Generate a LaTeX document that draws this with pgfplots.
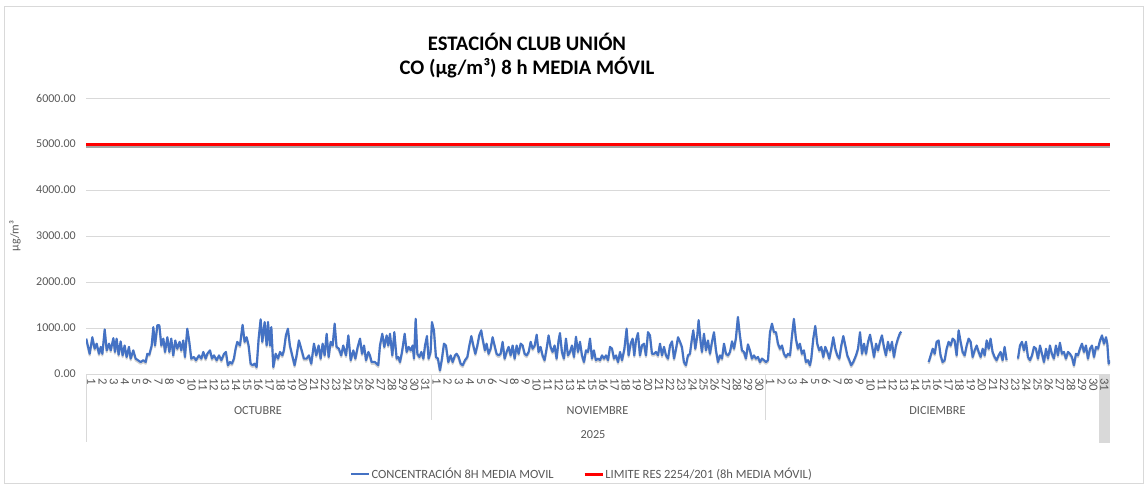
\documentclass[border=0pt]{standalone}
\usepackage{pgfplots}
\pgfplotsset{compat=1.18}
\usepackage{pgfplotstable}
\usepackage{fontspec}
\setmainfont{Carlito}
\definecolor{serblue}{HTML}{4472C4}
\definecolor{gridgray}{HTML}{D9D9D9}
\definecolor{txtgray}{HTML}{595959}

\pgfplotstableread{
d v
0.02 770
0.33 440
0.57 800
0.78 550
0.96 660
1.17 440
1.32 590
1.47 440
1.68 970
1.86 515
2.07 660
2.22 515
2.46 780
2.60 480
2.75 770
2.93 420
3.11 710
3.29 405
3.47 620
3.65 370
3.86 590
4.01 335
4.25 515
4.46 335
4.67 300
4.91 260
5.15 300
5.36 260
5.51 440
5.69 420
5.90 620
6.05 1020
6.20 620
6.41 1060
6.59 1060
6.77 620
6.95 770
7.10 480
7.31 800
7.49 480
7.66 770
7.84 405
8.02 730
8.20 550
8.41 700
8.56 515
8.74 730
8.89 370
9.10 985
9.28 700
9.46 335
9.70 370
9.88 300
10.15 405
10.36 335
10.54 480
10.75 335
10.90 440
11.14 515
11.32 335
11.50 405
11.74 300
11.95 405
12.16 300
12.40 440
12.57 480
12.75 190
12.93 260
13.11 225
13.29 335
13.44 550
13.59 700
13.83 620
14.07 1070
14.25 700
14.43 800
14.61 620
14.79 225
14.97 190
15.15 225
15.33 150
15.51 770
15.69 1190
15.84 700
16.05 1130
16.23 620
16.35 1130
16.53 620
16.65 1020
16.83 150
17.04 440
17.25 335
17.43 480
17.64 405
17.78 515
17.96 840
18.14 985
18.32 620
18.53 405
18.74 190
18.92 405
19.13 730
19.34 550
19.58 335
19.82 335
20.03 405
20.24 225
20.48 660
20.69 405
20.90 620
21.08 335
21.26 660
21.44 405
21.62 875
21.80 370
21.98 700
22.16 620
22.34 1095
22.51 590
22.72 550
22.93 405
23.11 620
23.36 405
23.57 840
23.78 300
24.02 515
24.20 335
24.41 590
24.62 770
24.80 440
24.98 620
25.16 300
25.37 480
25.51 405
25.66 260
25.96 260
26.26 190
26.41 620
26.62 875
26.80 590
27.01 840
27.16 620
27.31 875
27.52 405
27.70 910
27.91 335
28.06 370
28.21 260
28.39 480
28.63 875
28.81 480
28.99 590
29.17 515
29.35 620
29.47 335
29.62 1200
29.77 440
29.95 370
30.13 480
30.31 335
30.46 620
30.63 825
30.78 335
30.96 480
31.08 1130
31.26 950
31.44 370
31.62 335
31.80 80
31.98 335
32.16 660
32.34 620
32.55 260
32.76 405
32.94 260
33.15 405
33.30 440
33.48 370
33.66 225
33.84 190
34.05 300
34.26 370
34.44 620
34.62 825
34.80 620
34.98 440
35.16 620
35.33 840
35.51 950
35.63 770
35.84 515
35.99 660
36.17 440
36.35 550
36.53 800
36.71 620
36.89 440
37.07 405
37.25 440
37.43 700
37.61 335
37.79 480
37.97 590
38.15 405
38.33 620
38.51 335
38.69 620
38.87 440
39.05 660
39.23 620
39.41 440
39.59 405
39.77 480
39.95 700
40.13 550
40.31 620
40.49 855
40.66 480
40.84 590
41.02 405
41.20 300
41.38 550
41.56 840
41.74 590
41.92 480
42.10 620
42.28 335
42.46 730
42.58 890
42.76 480
42.94 335
43.12 770
43.30 405
43.48 480
43.66 620
43.84 370
44.02 810
44.20 480
44.38 700
44.56 405
44.74 260
44.92 515
45.10 480
45.28 770
45.46 335
45.63 515
45.81 300
46.02 335
46.18 300
46.36 405
46.54 335
46.72 405
46.90 300
47.08 590
47.26 550
47.44 335
47.62 405
47.80 260
47.98 480
48.16 300
48.37 550
48.57 985
48.75 405
48.93 660
49.11 770
49.26 405
49.41 730
49.59 890
49.77 405
49.95 620
50.13 660
50.31 405
50.49 910
50.67 840
50.85 440
51.03 440
51.21 480
51.39 405
51.57 660
51.75 405
51.93 590
52.11 405
52.29 335
52.47 620
52.65 710
52.83 335
53.01 550
53.19 800
53.37 700
53.54 590
53.72 260
53.90 190
54.08 405
54.26 440
54.44 770
54.56 950
54.74 550
54.92 840
55.04 1170
55.22 700
55.34 480
55.52 875
55.70 515
55.88 730
56.06 440
56.24 700
56.42 910
56.60 515
56.78 260
56.96 405
57.14 335
57.32 660
57.50 440
57.68 405
57.86 480
58.04 710
58.22 550
58.39 780
58.57 1240
58.75 840
58.93 515
59.11 480
59.29 335
59.47 645
59.65 515
59.83 335
60.01 405
60.19 335
60.37 370
60.55 260
60.73 335
60.91 300
61.09 260
61.27 300
61.45 910
61.63 1095
61.81 910
61.99 910
62.17 660
62.35 550
62.53 620
62.71 440
62.89 370
63.07 440
63.25 405
63.43 840
63.60 1200
63.78 770
63.96 550
64.14 660
64.32 440
64.50 515
64.68 260
64.86 300
65.04 190
65.16 335
65.34 770
65.52 1045
65.70 660
65.88 515
66.06 590
66.24 370
66.42 590
66.60 480
66.78 335
66.96 550
67.14 800
67.32 550
67.50 405
67.68 335
67.86 620
68.04 825
68.22 620
68.40 405
68.58 300
68.75 190
68.93 260
69.18 405
69.36 550
69.54 910
69.72 440
69.90 660
70.08 440
70.26 700
70.44 855
70.62 620
70.80 370
70.98 660
71.16 515
71.33 700
71.51 840
71.69 590
71.87 405
72.05 700
72.23 515
72.41 700
72.59 370
72.77 620
72.95 770
73.13 890
73.25 920
}\segA

\pgfplotstableread{
d v
75.71 260
75.89 405
76.07 550
76.25 440
76.42 700
76.60 730
76.78 405
76.96 260
77.14 300
77.32 550
77.50 700
77.68 620
77.86 770
78.04 730
78.22 405
78.40 950
78.58 700
78.76 480
78.94 405
79.12 620
79.30 770
79.48 700
79.66 370
79.84 515
80.02 620
80.20 480
80.38 370
80.56 550
80.74 405
80.92 730
81.10 550
81.27 770
81.45 480
81.63 370
81.81 300
81.99 405
82.17 480
82.35 300
82.53 590
82.71 300
}\segB

\pgfplotstableread{
d v
83.73 335
83.91 620
84.09 700
84.27 515
84.45 700
84.63 370
84.81 300
84.99 405
85.17 590
85.35 550
85.53 335
85.71 620
85.89 440
86.07 260
86.25 550
86.43 335
86.60 620
86.78 440
86.96 335
87.14 620
87.32 405
87.50 680
87.68 440
87.86 480
88.04 335
88.22 480
88.40 440
88.58 370
88.76 190
88.94 440
89.12 405
89.30 550
89.48 660
89.66 480
89.84 620
90.02 335
90.20 550
90.38 620
90.56 370
90.74 590
90.92 550
91.10 730
91.28 840
91.46 660
91.64 800
91.76 660
91.88 225
91.98 300
}\segC

\begin{document}
\begin{tikzpicture}
\useasboundingbox (0,0) rectangle (861pt,365.25pt);
\fill[white] (0,0) rectangle (861pt,365.25pt);
\draw[gridgray, line width=0.75pt] (3pt,3pt) rectangle (857.25pt,360pt);
% highlighted last category cell
\fill[gridgray] (824.25pt,33pt) rectangle (832.5pt,84.75pt);
% category separators
\draw[gridgray, line width=0.75pt] (64.5pt,84.75pt) -- (64.5pt,33.75pt);
\draw[gridgray, line width=0.75pt] (323.25pt,84.75pt) -- (323.25pt,50.25pt);
\draw[gridgray, line width=0.75pt] (573.75pt,84.75pt) -- (573.75pt,50.25pt);

\begin{axis}[
  at={(64.5pt,84.75pt)}, anchor=south west,
  scale only axis, width=768pt, height=207pt,
  xmin=0, xmax=92, ymin=0, ymax=6000,
  axis line style={draw=none},
  ytick={0,1000,...,6000},
  ymajorgrids, grid style={gridgray, line width=0.75pt},
  scaled y ticks=false,
  xtick={0.5,1.5,...,91.5},
  xticklabels={1,2,3,4,5,6,7,8,9,10,11,12,13,14,15,16,17,18,19,20,21,22,23,24,25,26,27,28,29,30,31,
               1,2,3,4,5,6,7,8,9,10,11,12,13,14,15,16,17,18,19,20,21,22,23,24,25,26,27,28,29,30,
               1,2,3,4,5,6,7,8,9,10,11,12,13,14,15,16,17,18,19,20,21,22,23,24,25,26,27,28,29,30,31},
  major tick length=0pt,
  tick label style={font=\fontsize{9}{10}\selectfont, text=txtgray},
  /pgf/number format/assume math mode=true,
  yticklabel style={inner xsep=0pt, xshift=-7.5pt,
     /pgf/number format/.cd, fixed, fixed zerofill, precision=2, 1000 sep={}},
  xticklabel style={rotate=-90, anchor=west, inner xsep=3pt, inner ysep=0pt,
     font=\fontsize{9.5}{10}\selectfont},
  unbounded coords=jump,
  legend style={at={(0.484,-0.3623)}, anchor=center, draw=none, fill=none,
     legend columns=2, font=\fontsize{9.4}{10}\selectfont, text=txtgray,
     inner sep=0pt, nodes={inner sep=1pt},
     /tikz/every even column/.append style={column sep=21pt}},
  legend image code/.code={\draw[#1] (0pt,0pt) -- (13.5pt,0pt);},
]
% shadows
\addplot[black, opacity=0.18, line width=1.6pt, line join=round, yshift=-1.3pt, forget plot] table[x=d,y=v]{\segA};
\addplot[black, opacity=0.18, line width=1.6pt, line join=round, yshift=-1.3pt, forget plot] table[x=d,y=v]{\segB};
\addplot[black, opacity=0.18, line width=1.6pt, line join=round, yshift=-1.3pt, forget plot] table[x=d,y=v]{\segC};
% concentration
\addplot[serblue, line width=1.6pt, line join=round] table[x=d,y=v]{\segA};
\addlegendentry{CONCENTRACIÓN 8H MEDIA MOVIL}
\addplot[serblue, line width=1.6pt, line join=round, forget plot] table[x=d,y=v]{\segB};
\addplot[serblue, line width=1.6pt, line join=round, forget plot] table[x=d,y=v]{\segC};
% limit
\addplot[black, opacity=0.35, line width=2.25pt, yshift=-1.5pt, forget plot] coordinates {(0,5000) (92,5000)};
\addplot[red, line width=2.25pt] coordinates {(0,5000) (92,5000)};
\addlegendentry{LIMITE RES 2254/201 (8h MEDIA MÓVIL)}
\end{axis}

% titles
\node[font=\bfseries\fontsize{15.5}{18}\selectfont, anchor=base] at (395.25pt,327.4pt) {ESTACIÓN CLUB UNIÓN};
\node[font=\bfseries\fontsize{15.5}{18}\selectfont, anchor=base] at (395.25pt,309.4pt) {CO (µg/m³) 8 h MEDIA MÓVIL};
% y axis title
\node[rotate=90, font=\fontsize{9}{10}\selectfont, text=txtgray] at (11.25pt,188.25pt) {µg/m³};
% month and year labels
\node[font=\fontsize{9.2}{10}\selectfont, text=txtgray] at (193.5pt,57pt) {OCTUBRE};
\node[font=\fontsize{9.2}{10}\selectfont, text=txtgray] at (448.1pt,57pt) {NOVIEMBRE};
\node[font=\fontsize{9.2}{10}\selectfont, text=txtgray] at (703.1pt,57pt) {DICIEMBRE};
\node[font=\fontsize{9.2}{10}\selectfont, text=txtgray] at (444.75pt,39pt) {2025};
\end{tikzpicture}
\end{document}
